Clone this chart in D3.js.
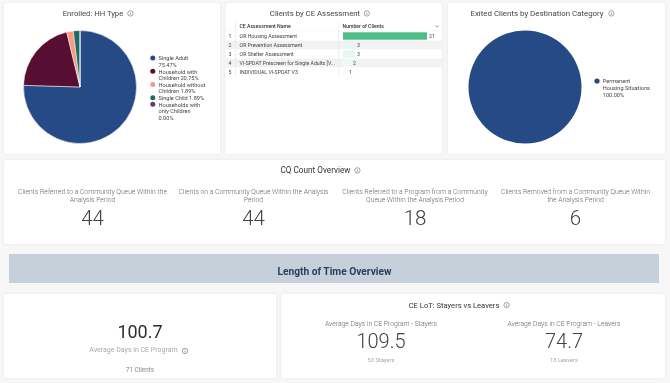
<!DOCTYPE html>
<html>
<head>
<meta charset="utf-8">
<title>CE overview</title>
<style>
  html,body{margin:0;padding:0;background:#f7f7f7;overflow:hidden;}
  svg{display:block;font-family:Roboto,sans-serif;filter:blur(0.4px);}
  .card{fill:#fff;filter:drop-shadow(0 0 1.5px rgba(0,0,0,.07));}
</style>
</head>
<body>
<div id="container"></div>
<script src="https://cdn.jsdelivr.net/npm/d3@7/dist/d3.min.js"></script>
<script>
// data
var hhTypes = ["Single Adult","Household with Children","Household without Children","Single Child","Households with only Children"];
var hhValues = [75.47,20.75,1.89,1.89,0];
var hhColors = ["#254a85","#560f33","#f99a7f","#1e6b62","#6b3a70"];
var hhLegend = [["Single Adult","75.47%"],["Household with","Children 20.75%"],["Household without","Children 1.89%"],["Single Child 1.89%"],["Households with","only Children","0.00%"]];

var assessNames = ["OR Housing Assessment","OR Prevention Assessment","OR Shelter Assessment","VI-SPDAT Prescreen for Single Adults [V...","INDIVIDUAL VI-SPDAT V3"];
var assessValues = [21,3,3,2,1];

var destNames = ["Permanent Housing Situations"];
var destValues = [100];
var destLegend = ["Permanent","Housing Situations","100.00%"];

var cqLabels = [
  ["Clients Referred to a Community Queue Within the","Analysis Period"],
  ["Clients on a Community Queue Within the Analysis","Period"],
  ["Clients Referred to a Program from a Community","Queue Within the Analysis Period"],
  ["Clients Removed from a Community Queue Within","the Analysis Period"]];
var cqValues = ["44","44","18","6"];

var lotLabels = ["Average Days in CE Program - Stayers","Average Days in CE Program - Leavers"];
var lotValues = ["109.5","74.7"];
var lotCounts = ["53 Stayers","18 Leavers"];

var svg = d3.select("#container").append("svg").attr("width",670).attr("height",383);

function card(x,y,w,h){
  svg.append("rect").attr("class","card").attr("x",x).attr("y",y).attr("width",w).attr("height",h).attr("rx",2.5);
}
function label(g,x,y,t,size,color,anchor,weight){
  return g.append("text").attr("x",x).attr("y",y).text(t)
    .attr("font-size",size).attr("fill",color)
    .attr("text-anchor",anchor||"start").attr("font-weight",weight||400);
}
function info(x,y){
  var g = svg.append("g").attr("transform","translate("+x+","+y+")");
  g.append("circle").attr("r",2.7).attr("fill","none").attr("stroke","#666").attr("stroke-width",0.6);
  g.append("line").attr("y1",-0.6).attr("y2",1.5).attr("stroke","#666").attr("stroke-width",0.6);
  g.append("circle").attr("cy",-1.4).attr("r",0.35).attr("fill","#666");
}

card(4,3,216,151);
card(225.5,3,216.5,151);
card(448,3,217,151);
card(4,160,661,84);
card(4,294,272,84);
card(281,294,384,84);

// ---- pies
function drawPie(cx,cy,vals,cols,stroke){
  var pie = d3.pie().sort(null)(vals);
  var arc = d3.arc().innerRadius(0).outerRadius(56.5);
  svg.append("g").attr("transform","translate("+cx+","+cy+")")
    .selectAll("path").data(pie).enter().append("path")
    .attr("d",arc)
    .attr("fill",function(d,i){return cols[i];})
    .attr("stroke",stroke).attr("stroke-width",0.5);
}
drawPie(80,87,hhValues,hhColors,"#fff");
drawPie(525,87,destValues,[hhColors[0]],"none");

label(svg,93,16.2,"Enrolled: HH Type",7.7,"#444","middle");
info(130.4,13.4);

var ly = 60.4;
hhLegend.forEach(function(lines,i){
  svg.append("circle").attr("cx",152.8).attr("cy",ly-2.3).attr("r",2.5).attr("fill",hhColors[i]);
  lines.forEach(function(t,j){
    label(svg,158.5,ly+j*6.6,t,5.6,"#444");
  });
  ly += lines.length*6.6;
});

label(svg,537,16.2,"Exited Clients by Destination Category",7.9,"#444","middle");
info(611.4,13.4);
svg.append("circle").attr("cx",597).attr("cy",81).attr("r",2.6).attr("fill",hhColors[0]);
destLegend.forEach(function(t,j){
  label(svg,602.8,83+j*6.85,t,5.6,"#444");
});

// ---- table
label(svg,315,16.2,"Clients by CE Assessment",7.8,"#444","middle");
info(366.8,13.4);

var rowY = d3.scaleBand().domain(d3.range(assessNames.length)).range([31.5,76.5]);
var barX = d3.scaleLinear().domain([0,21]).range([343,427]);
var barC = d3.scaleLinear().domain([1,3,21]).range(["#f8fcfa","#e8f6f0","#4fbd88"]);

label(svg,239.4,27.8,"CE Assessment Name",5.2,"#333","start",500);
label(svg,342.6,27.8,"Number of Clients",5.1,"#333","start",500);
svg.append("path").attr("d","M435.5 25.6l1.5 1.5 1.5-1.5").attr("fill","none").attr("stroke","#555").attr("stroke-width",0.6);
svg.append("line").attr("x1",226).attr("x2",442).attr("y1",31).attr("y2",31).attr("stroke","#eee").attr("stroke-width",0.5);

var rows = svg.selectAll(".row").data(assessNames).enter().append("g").attr("class","row");
rows.append("rect").attr("x",226).attr("width",216)
  .attr("y",function(d,i){return rowY(i);}).attr("height",rowY.bandwidth())
  .attr("fill",function(d,i){return i%2 ? "#f1f3f3" : "#fff";});
rows.append("rect").attr("x",barX(0))
  .attr("y",function(d,i){return rowY(i)+0.8;}).attr("height",rowY.bandwidth()-1.6)
  .attr("width",function(d,i){return barX(assessValues[i])-barX(0);})
  .attr("fill",function(d,i){return barC(assessValues[i]);});
rows.append("text").text(function(d,i){return i+1;})
  .attr("x",230).attr("y",function(d,i){return rowY(i)+6.4;})
  .attr("font-size",5.2).attr("fill","#444").attr("text-anchor","middle");
rows.append("text").text(function(d){return d;})
  .attr("x",239.6).attr("y",function(d,i){return rowY(i)+6.4;})
  .attr("font-size",5.2).attr("fill","#444");
rows.append("text").text(function(d,i){return assessValues[i];})
  .attr("x",function(d,i){return barX(assessValues[i])+2;}).attr("y",function(d,i){return rowY(i)+6.8;})
  .attr("font-size",5.2).attr("fill","#444");

[235.4,338.8].forEach(function(x){
  svg.append("line").attr("x1",x).attr("x2",x).attr("y1",22).attr("y2",76.5).attr("stroke","#ddd").attr("stroke-width",0.5);
});

// ---- CQ overview
label(svg,315.5,173,"CQ Count Overview",8.2,"#333","middle");
info(357.4,170.4);
var cqX = [92.5,253.5,415,575.5];
cqLabels.forEach(function(lines,i){
  lines.forEach(function(t,j){
    label(svg,cqX[i],193.5+j*8.3,t,6.8,"#666","middle",300);
  });
  label(svg,cqX[i],224.5,cqValues[i],20.5,"#3d4347","middle",300);
});

// ---- banner
svg.append("rect").attr("x",9).attr("y",254).attr("width",650).attr("height",29).attr("fill","#c5d0da");
label(svg,334.5,274.5,"Length of Time Overview",10.2,"#27415f","middle",700);

// ---- length of time
label(svg,140,337.8,"100.7",18,"#2b2f33","middle",400);
label(svg,133.5,352.4,"Average Days in CE Program",7,"#aaa","middle");
info(185,351);
label(svg,140,372.4,"71 Clients",6.4,"#888","middle");

label(svg,454,307.6,"CE LoT: Stayers vs Leavers",7.6,"#333","middle");
info(506.6,305);
var lotX = [381,564];
lotLabels.forEach(function(t,i){
  label(svg,lotX[i],325.6,t,6.8,"#666","middle",300);
  label(svg,lotX[i],347.6,lotValues[i],20,"#3d4347","middle",300);
  label(svg,lotX[i],361.5,lotCounts[i],5.8,"#aaa","middle");
});
</script>
</body>
</html>
